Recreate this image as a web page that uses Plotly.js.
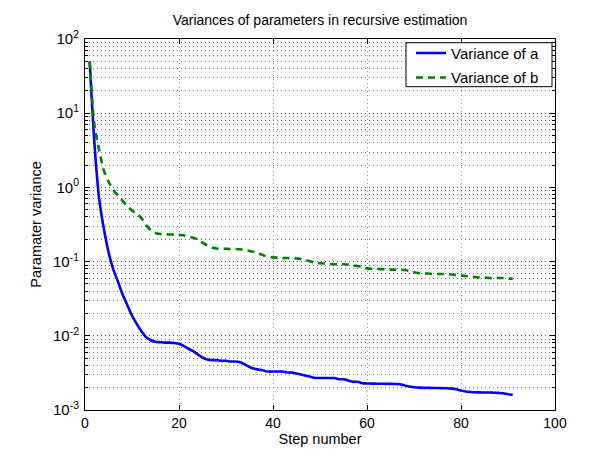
<!DOCTYPE html>
<html>
<head>
<meta charset="utf-8">
<script src="https://cdn.plot.ly/plotly-3.0.1.min.js"></script>
<style>
  html, body { margin: 0; padding: 0; background: #ffffff; }
  #chart { width: 605px; height: 457px; }
</style>
</head>
<body>
<div id="chart"></div>
<script>
// Step numbers 1..91
const steps = [
  1,2,3,4,5,6,7,8,9,10,11,12,13,14,15,16,17,18,19,20,
  21,22,23,24,25,26,27,28,29,30,31,32,33,34,35,36,37,38,39,40,
  41,42,43,44,45,46,47,48,49,50,51,52,53,54,55,56,57,58,59,60,
  61,62,63,64,65,66,67,68,69,70,71,72,73,74,75,76,77,78,79,80,
  81,82,83,84,85,86,87,88,89,90,91
];

// Variance of parameter a
const varianceA = [
  50, 4.0, 0.71, 0.28, 0.135, 0.079, 0.054, 0.036, 0.026, 0.0188,
  0.0145, 0.0115, 0.0096, 0.0087, 0.0083, 0.0082, 0.0081, 0.0081, 0.0080, 0.0078,
  0.0073, 0.0067, 0.0062, 0.0056, 0.0051, 0.0048, 0.0047, 0.0047, 0.0046, 0.0046,
  0.0045, 0.0045, 0.0044, 0.0041, 0.0038, 0.0036, 0.0035, 0.0034, 0.0033, 0.0033,
  0.0033, 0.0033, 0.0032, 0.0032, 0.0031, 0.0030, 0.0029, 0.0028, 0.0027, 0.0027,
  0.0027, 0.0027, 0.0027, 0.0026, 0.0026, 0.0025, 0.0024, 0.0024, 0.0023, 0.00228,
  0.00227, 0.00226, 0.00226, 0.00225, 0.00225, 0.00224, 0.00222, 0.00214, 0.00207, 0.00203,
  0.00200, 0.00199, 0.00199, 0.00198, 0.00198, 0.00197, 0.00196, 0.00194, 0.00190, 0.00183,
  0.00178, 0.00175, 0.00173, 0.00173, 0.00172, 0.00172, 0.00171, 0.00170, 0.00168, 0.00163,
  0.00160
];

// Variance of parameter b
const varianceB = [
  50, 7.0, 3.2, 1.7, 1.2, 0.93, 0.78, 0.66, 0.56, 0.49,
  0.44, 0.385, 0.31, 0.265, 0.243, 0.235, 0.233, 0.232, 0.231, 0.229,
  0.227, 0.218, 0.21, 0.20, 0.18, 0.165, 0.155, 0.150, 0.149, 0.149,
  0.148, 0.148, 0.147, 0.143, 0.139, 0.135, 0.128, 0.121, 0.117, 0.114,
  0.113, 0.112, 0.112, 0.111, 0.110, 0.109, 0.105, 0.100, 0.097, 0.095,
  0.094, 0.093, 0.092, 0.092, 0.092, 0.091, 0.089, 0.087, 0.085, 0.081,
  0.080, 0.080, 0.079, 0.079, 0.078, 0.078, 0.077, 0.077, 0.075, 0.072,
  0.070, 0.069, 0.069, 0.068, 0.068, 0.068, 0.068, 0.067, 0.066, 0.065,
  0.064, 0.062, 0.062, 0.061, 0.061, 0.060, 0.060, 0.060, 0.060, 0.059,
  0.059
];

const seriesNames = ['Variance of a', 'Variance of b'];
const xTickVals = [0, 20, 40, 60, 80, 100];
const yTickVals = [0.001, 0.01, 0.1, 1, 10, 100];
const yTickText = ['10<sup>-3</sup>', '10<sup>-2</sup>', '10<sup>-1</sup>', '10<sup>0</sup>', '10<sup>1</sup>', '10<sup>2</sup>'];

const FONT = 'Liberation Sans, Arial, Helvetica, sans-serif';

const traces = [
  {
    x: steps, y: varianceA, name: seriesNames[0], type: 'scatter', mode: 'lines',
    legendgroup: 'a',
    line: { color: '#0000ff', width: 2.6, shape: 'spline', smoothing: 0.8 }
  },
  {
    x: steps, y: varianceB, name: seriesNames[1], type: 'scatter', mode: 'lines',
    legendgroup: 'b',
    line: { color: '#008000', width: 2.6, dash: '7px,5px', shape: 'spline', smoothing: 0.8 }
  }
];

const gridDot = '1px,3px';

const layout = {
  width: 605, height: 457,
  margin: { l: 85, r: 50, t: 39, b: 47, pad: 0 },
  paper_bgcolor: '#ffffff',
  plot_bgcolor: '#ffffff',
  font: { family: FONT, size: 14, color: '#000000' },
  showlegend: true,
  title: {
    text: 'Variances of parameters in recursive estimation',
    font: { family: FONT, size: 14, color: '#000000' },
    xref: 'paper', x: 0.5, xanchor: 'center',
    yref: 'container', y: 1 - 20 / 457, yanchor: 'middle'
  },
  xaxis: {
    type: 'linear', range: [0, 100],
    tickmode: 'array', tickvals: xTickVals,
    ticks: 'inside', ticklen: 5, tickwidth: 1, tickcolor: '#000000',
    showline: true, linecolor: '#000000', linewidth: 1, mirror: 'ticks',
    showgrid: true, gridcolor: '#9a9a9a', gridwidth: 1, griddash: gridDot,
    zeroline: false,
    tickfont: { family: FONT, size: 14, color: '#000000' },
    title: { text: 'Step number', font: { family: FONT, size: 14.5, color: '#000000' }, standoff: 3 },
    automargin: false
  },
  yaxis: {
    type: 'log', range: [-3, 2],
    tickmode: 'array', tickvals: yTickVals, ticktext: yTickText,
    ticks: 'inside', ticklen: 5, tickwidth: 1, tickcolor: '#000000',
    showline: true, linecolor: '#000000', linewidth: 1, mirror: 'ticks',
    showgrid: true, gridcolor: '#555555', gridwidth: 1, griddash: gridDot,
    zeroline: false,
    minor: {
      dtick: 'D1', ticks: 'inside', ticklen: 3, tickcolor: '#000000',
      showgrid: true, gridcolor: '#777777', gridwidth: 1, griddash: gridDot
    },
    tickfont: { family: FONT, size: 15, color: '#000000' },
    ticklabelstandoff: 2,
    title: { text: 'Paramater variance', font: { family: FONT, size: 14.5, color: '#000000' }, standoff: 7 },
    automargin: false
  },
  shapes: [
    {
      type: 'rect', xref: 'paper', yref: 'paper', layer: 'above',
      x0: (406 - 85) / 470, x1: (552 - 85) / 470,
      y0: 1 - (87 - 39.3) / 371, y1: 1 - (43 - 39.3) / 371,
      fillcolor: '#ffffff', line: { color: '#000000', width: 1 }
    }
  ],
  legend: {
    x: (411 - 85) / 470, xanchor: 'left', y: 1 + (39.3 - 37) / 371, yanchor: 'top',
    bgcolor: 'rgba(0,0,0,0)', borderwidth: 0,
    font: { family: FONT, size: 15, color: '#000000' },
    tracegroupgap: 2, itemwidth: 30
  }
};

Plotly.newPlot('chart', traces, layout, { displayModeBar: false, staticPlot: true });
</script>
</body>
</html>
